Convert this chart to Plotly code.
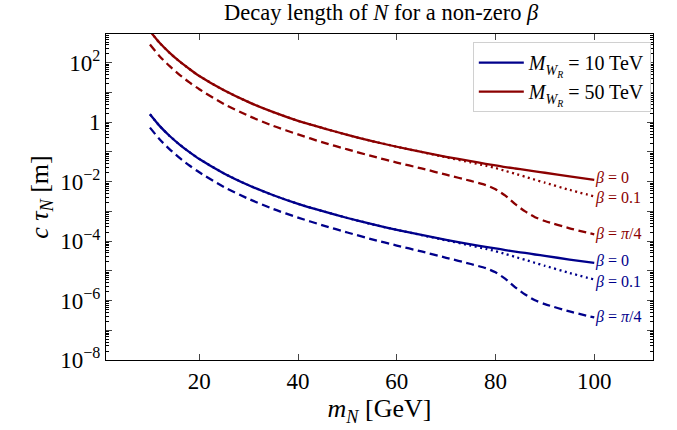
import math
import plotly.graph_objects as go

# ---- data ----
m_N = [10, 12, 14, 16, 18, 20, 25, 30, 35, 40, 45, 50, 55, 60, 65, 70, 75, 78, 80, 82, 84, 86, 88, 90, 95, 100]

# M_WR = 10 TeV
blue_beta0 = [1.86, 0.74, 0.345, 0.178, 0.099, 0.058, 0.019, 7.6e-3, 3.5e-3, 1.8e-3, 1.02e-3, 6.0e-4, 3.7e-4,
              2.4e-4, 1.62e-4, 1.10e-4, 7.8e-5, 6.4e-5, 5.7e-5, 5.0e-5, 4.45e-5, 4.0e-5, 3.55e-5, 3.2e-5, 2.4e-5, 1.85e-5]
blue_beta01 = [1.86, 0.74, 0.345, 0.178, 0.099, 0.058, 0.019, 7.6e-3, 3.5e-3, 1.8e-3, 1.02e-3, 6.0e-4, 3.7e-4,
               2.4e-4, 1.60e-4, 1.06e-4, 7.1e-5, 5.5e-5, 4.6e-5, 3.7e-5, 2.95e-5, 2.35e-5, 1.86e-5, 1.48e-5, 8.5e-6, 5.1e-6]
blue_betapi4 = [0.66, 0.263, 0.123, 0.063, 0.035, 0.0207, 6.6e-3, 2.63e-3, 1.2e-3, 6.2e-4, 3.4e-4, 1.95e-4, 1.15e-4,
                7.1e-5, 4.5e-5, 2.75e-5, 1.7e-5, 1.23e-5, 8.9e-6, 5.4e-6, 2.8e-6, 1.6e-6, 1.02e-6, 7.6e-7, 4.3e-7, 2.7e-7]

# M_WR = 50 TeV
red_beta0 = [1162, 462, 216, 111, 62, 36, 11.9, 4.75, 2.19, 1.12, 0.64, 0.375, 0.231,
             0.15, 0.101, 0.069, 0.049, 0.040, 0.0356, 0.031, 0.0278, 0.025, 0.0222, 0.020, 0.015, 0.0116]
red_beta01 = [1162, 462, 216, 111, 62, 36, 11.9, 4.75, 2.19, 1.12, 0.64, 0.375, 0.231,
              0.15, 0.100, 0.066, 0.0444, 0.0344, 0.0288, 0.0231, 0.0184, 0.0147, 0.0116, 0.00925, 0.0053, 0.0032]
red_betapi4 = [412, 164, 77, 39.4, 21.9, 12.9, 4.1, 1.64, 0.75, 0.39, 0.21, 0.122, 0.072,
               0.044, 0.028, 0.0172, 0.0106, 0.0077, 0.0056, 0.0034, 0.00175, 0.0010, 6.4e-4, 4.75e-4, 2.7e-4, 1.69e-4]

beta_labels = ["<i>β</i> = 0", "<i>β</i> = 0.1", "<i>β</i> = <i>π</i>/4"]
legend_names = ["<i>M</i><sub><i>W</i><sub><i>R</i></sub></sub> = 10 TeV",
                "<i>M</i><sub><i>W</i><sub><i>R</i></sub></sub> = 50 TeV"]
y_tick_vals = [1e-8, 1e-7, 1e-6, 1e-5, 1e-4, 1e-3, 1e-2, 1e-1, 1, 10, 100]
y_tick_text = ["10<sup>−8</sup>", "", "10<sup>−6</sup>", "", "10<sup>−4</sup>", "", "10<sup>−2</sup>", "", "1", "",
               "10<sup>2</sup>"]
x_tick_vals = [20, 40, 60, 80, 100]

BLUE = "#00008B"
RED = "#8B0000"
FONT = "Liberation Serif"

fig = go.Figure()
sets = [
    (BLUE, [blue_beta0, blue_beta01, blue_betapi4], legend_names[0]),
    (RED, [red_beta0, red_beta01, red_betapi4], legend_names[1]),
]
dashes = ["solid", "2px,3.5px", "8px,4.5px"]
label_shift = [2, -2, 0]
for color, series, name in sets:
    for i, ys in enumerate(series):
        fig.add_trace(go.Scatter(
            x=m_N, y=ys, mode="lines",
            line=dict(color=color, width=2.3, dash=dashes[i], shape="spline", smoothing=0.6),
            name=name, showlegend=(i == 0),
        ))
        fig.add_annotation(x=m_N[-1], y=math.log10(ys[-1]), xref="x", yref="y",
                           text=beta_labels[i], showarrow=False, xanchor="left", yanchor="middle",
                           xshift=0, yshift=label_shift[i], borderpad=0,
                           font=dict(family=FONT, size=16, color=color))

minor_vals = [k * 10.0 ** e for e in range(-9, 3) for k in range(2, 10)]

fig.update_xaxes(
    range=[1.1, 111.9], tickvals=x_tick_vals, ticks="inside", ticklen=6, tickwidth=1,
    showline=True, linecolor="black", linewidth=1, mirror="allticks", showgrid=False, zeroline=False,
    tickfont=dict(family=FONT, size=23, color="black"),
    title=dict(text="<i>m</i><sub><i>N</i></sub> [GeV]", font=dict(family=FONT, size=26, color="black"), standoff=6),
)
fig.update_yaxes(
    type="log", range=[-8, 2.97], tickvals=y_tick_vals, ticktext=y_tick_text, ticks="inside", ticklen=6, tickwidth=1,
    minor=dict(tickvals=minor_vals, ticks="inside", ticklen=3, tickcolor="black", tickwidth=0.8),
    showline=True, linecolor="black", linewidth=1, mirror="allticks", showgrid=False, zeroline=False,
    tickfont=dict(family=FONT, size=23, color="black"),
    title=dict(text="<i>c τ</i><sub><i>N</i></sub> [m]", font=dict(family=FONT, size=26, color="black"), standoff=4),
)

fig.update_layout(
    width=677, height=430,
    margin=dict(l=106, r=24, t=34, b=68),
    paper_bgcolor="white", plot_bgcolor="white",
    title=dict(text="Decay length of <i>N</i> for a non-zero <i>β</i>", x=0.563, xanchor="center", y=0.972,
               yanchor="middle", font=dict(family=FONT, size=22.5, color="black")),
    legend=dict(x=0.996, y=0.975, xanchor="right", yanchor="top", bgcolor="white",
                bordercolor="#d0d0d0", borderwidth=1, font=dict(family=FONT, size=20, color="black"),
                itemwidth=45, tracegroupgap=2),
    showlegend=True,
)

fig.write_html("out.html", config={"displayModeBar": False},
               post_script="document.body.style.margin='0px';")
